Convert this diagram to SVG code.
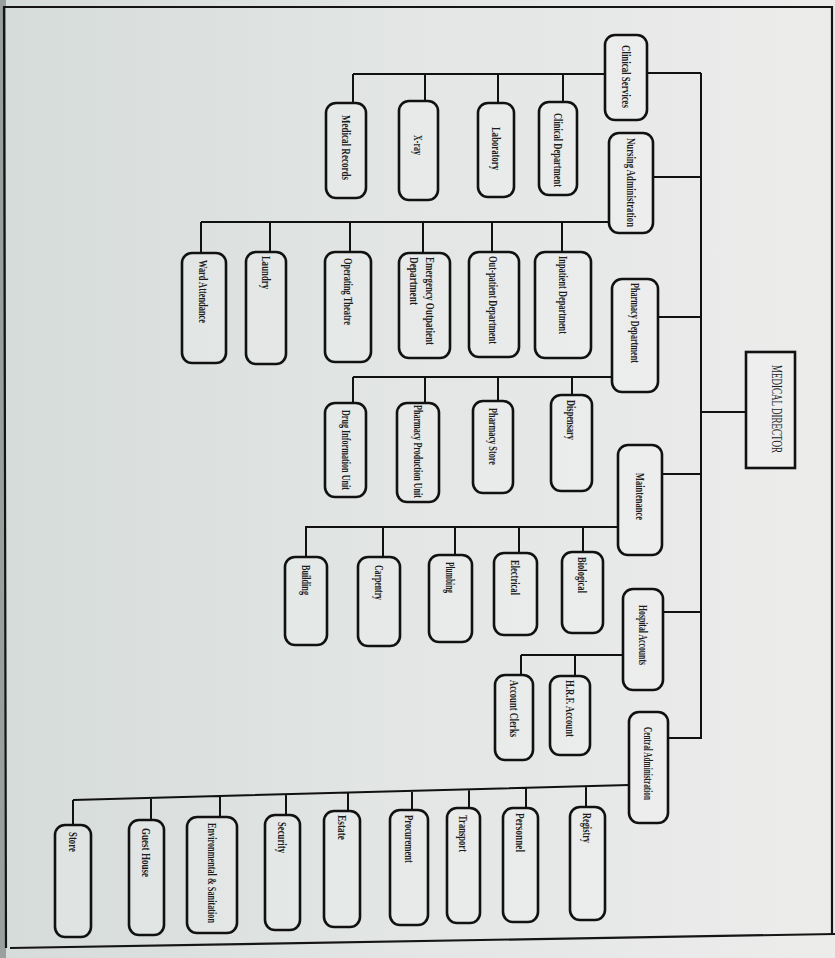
<svg xmlns="http://www.w3.org/2000/svg" width="835" height="958" viewBox="0 0 835 958">
<defs>
<linearGradient id="bg" x1="0" y1="0" x2="1" y2="0">
<stop offset="0" stop-color="#d6dcda"/>
<stop offset="0.5" stop-color="#e3e6e5"/>
<stop offset="1" stop-color="#ececeb"/>
</linearGradient>
</defs>
<style>
.box{fill:#ffffff;fill-opacity:0.18;stroke:#111;stroke-width:2.6}
.ln{stroke:#111;stroke-width:2;fill:none}
.fr{stroke:#151515;stroke-width:2.2;fill:none}
.t{font-family:"Liberation Serif","Times New Roman",serif;font-size:13px;font-weight:bold;fill:#1c1c1c;dominant-baseline:central}
.md{font-size:15px;font-weight:normal}
</style>
<rect x="0" y="0" width="835" height="958" fill="url(#bg)"/>
<rect x="0" y="0" width="6" height="958" fill="#9aa09e"/>
<polyline class="fr" points="6,948 4,7 832,7 832,935"/>
<line class="fr" x1="10" y1="948" x2="835" y2="934"/>

<g id="connectors">
<path class="ln" d="M701,73 V739"/>
<path class="ln" d="M647,73 H701 M653,177 H701 M658,317 H701 M662,474 H701 M663,612 H701 M668,738 H701 M701,412 H746"/>
<path class="ln" d="M353,74 H605 M353,74 V103 M425,74 V101 M498,74 V103 M563,74 V102"/>
<path class="ln" d="M201,222 H609 M201,222 V253 M270,222 V252 M350,222 V252 M423,222 V253 M492,222 V252 M562,222 V252"/>
<path class="ln" d="M353,377 H612 M353,377 V403 M425,377 V403 M498,377 V401 M572,377 V395"/>
<path class="ln" d="M305,527 H618 M306,527 V557 M383,527 V557 M455,527 V555 M519,527 V553 M583,527 V552"/>
<path class="ln" d="M521,655 H623 M521,655 V675 M575,655 V676"/>
<path class="ln" d="M73,800 L629,785 M73,800 V825 M151,798 V820 M220,796 V817 M286,794 V815 M348,793 V811 M412,791 V810 M469,789 V808 M526,788 V808 M586,786 V807"/>
</g>

<g id="medical-director"><rect class="box" x="746" y="352" width="49" height="116"/><text class="t md" transform="translate(777,365) rotate(90)" textLength="88" lengthAdjust="spacingAndGlyphs">MEDICAL DIRECTOR</text></g>

<g id="clinical-services"><rect class="box" x="605" y="35" width="42" height="85" rx="10"/><text class="t" transform="translate(626,45) rotate(90)" textLength="63" lengthAdjust="spacingAndGlyphs">Clinical Services</text></g>
<g id="nursing-administration"><rect class="box" x="609" y="133" width="44" height="100" rx="10"/><text class="t" transform="translate(631,138) rotate(90)" textLength="89" lengthAdjust="spacingAndGlyphs">Nursing Administration</text></g>
<g id="pharmacy-department"><rect class="box" x="612" y="279" width="46" height="113" rx="10"/><text class="t" transform="translate(635,283) rotate(90)" textLength="80" lengthAdjust="spacingAndGlyphs">Pharmacy Department</text></g>
<g id="maintenance"><rect class="box" x="618" y="445" width="44" height="110" rx="10"/><text class="t" transform="translate(640,473) rotate(90)" textLength="47" lengthAdjust="spacingAndGlyphs">Maintenance</text></g>
<g id="hospital-accounts"><rect class="box" x="623" y="589" width="40" height="101" rx="10"/><text class="t" transform="translate(643,605) rotate(90)" textLength="60" lengthAdjust="spacingAndGlyphs">Hospital Accounts</text></g>
<g id="central-administration"><rect class="box" x="629" y="712" width="39" height="111" rx="10"/><text class="t" transform="translate(648,727) rotate(90)" textLength="73" lengthAdjust="spacingAndGlyphs">Central Administration</text></g>

<g id="medical-records"><rect class="box" x="326" y="103" width="40" height="95" rx="10"/><text class="t" transform="translate(346,115) rotate(90)" textLength="65" lengthAdjust="spacingAndGlyphs">Medical Records</text></g>
<g id="x-ray"><rect class="box" x="399" y="101" width="39" height="99" rx="10"/><text class="t" transform="translate(418,135) rotate(90)" textLength="20" lengthAdjust="spacingAndGlyphs">X-ray</text></g>
<g id="laboratory"><rect class="box" x="478" y="103" width="36" height="94" rx="10"/><text class="t" transform="translate(496,127) rotate(90)" textLength="43" lengthAdjust="spacingAndGlyphs">Laboratory</text></g>
<g id="clinical-department"><rect class="box" x="539" y="102" width="38" height="93" rx="10"/><text class="t" transform="translate(558,113) rotate(90)" textLength="74" lengthAdjust="spacingAndGlyphs">Clinical Department</text></g>

<g id="ward-attendance"><rect class="box" x="182" y="253" width="44" height="110" rx="10"/><text class="t" transform="translate(203,260) rotate(90)" textLength="63" lengthAdjust="spacingAndGlyphs">Ward Attendance</text></g>
<g id="laundry"><rect class="box" x="246" y="252" width="40" height="112" rx="10"/><text class="t" transform="translate(266,256) rotate(90)" textLength="33" lengthAdjust="spacingAndGlyphs">Laundry</text></g>
<g id="operating-theatre"><rect class="box" x="325" y="252" width="46" height="110" rx="10"/><text class="t" transform="translate(348,258) rotate(90)" textLength="67" lengthAdjust="spacingAndGlyphs">Operating Theatre</text></g>
<g id="emergency-outpatient"><rect class="box" x="399" y="253" width="51" height="105" rx="10"/><text class="t" transform="translate(430,257) rotate(90)" textLength="88" lengthAdjust="spacingAndGlyphs">Emergency Outpatient</text><text class="t" transform="translate(414,257) rotate(90)" textLength="48" lengthAdjust="spacingAndGlyphs">Department</text></g>
<g id="out-patient"><rect class="box" x="469" y="252" width="50" height="105" rx="10"/><text class="t" transform="translate(493,256) rotate(90)" textLength="88" lengthAdjust="spacingAndGlyphs">Out-patient Department</text></g>
<g id="inpatient"><rect class="box" x="535" y="252" width="56" height="106" rx="10"/><text class="t" transform="translate(563,256) rotate(90)" textLength="78" lengthAdjust="spacingAndGlyphs">Inpatient Department</text></g>

<g id="drug-information"><rect class="box" x="325" y="403" width="41" height="94" rx="10"/><text class="t" transform="translate(346,410) rotate(90)" textLength="80" lengthAdjust="spacingAndGlyphs">Drug Information Unit</text></g>
<g id="pharmacy-production"><rect class="box" x="397" y="403" width="42" height="99" rx="10"/><text class="t" transform="translate(418,405) rotate(90)" textLength="93" lengthAdjust="spacingAndGlyphs">Pharmacy Production Unit</text></g>
<g id="pharmacy-store"><rect class="box" x="473" y="401" width="40" height="92" rx="10"/><text class="t" transform="translate(493,408) rotate(90)" textLength="57" lengthAdjust="spacingAndGlyphs">Pharmacy Store</text></g>
<g id="dispensary"><rect class="box" x="551" y="395" width="41" height="96" rx="10"/><text class="t" transform="translate(571,400) rotate(90)" textLength="40" lengthAdjust="spacingAndGlyphs">Dispensary</text></g>

<g id="building"><rect class="box" x="285" y="557" width="42" height="88" rx="10"/><text class="t" transform="translate(306,565) rotate(90)" textLength="30" lengthAdjust="spacingAndGlyphs">Building</text></g>
<g id="carpentry"><rect class="box" x="358" y="557" width="42" height="89" rx="10"/><text class="t" transform="translate(379,565) rotate(90)" textLength="35" lengthAdjust="spacingAndGlyphs">Carpentry</text></g>
<g id="plumbing"><rect class="box" x="429" y="555" width="43" height="87" rx="10"/><text class="t" transform="translate(450,562) rotate(90)" textLength="31" lengthAdjust="spacingAndGlyphs">Plumbing</text></g>
<g id="electrical"><rect class="box" x="494" y="553" width="43" height="82" rx="10"/><text class="t" transform="translate(515,560) rotate(90)" textLength="35" lengthAdjust="spacingAndGlyphs">Electrical</text></g>
<g id="biological"><rect class="box" x="562" y="552" width="41" height="81" rx="10"/><text class="t" transform="translate(582,557) rotate(90)" textLength="36" lengthAdjust="spacingAndGlyphs">Biological</text></g>

<g id="account-clerks"><rect class="box" x="495" y="675" width="38" height="85" rx="10"/><text class="t" transform="translate(514,680) rotate(90)" textLength="57" lengthAdjust="spacingAndGlyphs">Account Clerks</text></g>
<g id="hrf-account"><rect class="box" x="550" y="676" width="40" height="79" rx="10"/><text class="t" transform="translate(570,680) rotate(90)" textLength="57" lengthAdjust="spacingAndGlyphs">H.R.F. Account</text></g>

<g id="store"><rect class="box" x="55" y="825" width="36" height="112" rx="10"/><text class="t" transform="translate(73,832) rotate(90)" textLength="20" lengthAdjust="spacingAndGlyphs">Store</text></g>
<g id="guest-house"><rect class="box" x="129" y="820" width="35" height="115" rx="10"/><text class="t" transform="translate(146,828) rotate(90)" textLength="49" lengthAdjust="spacingAndGlyphs">Guest House</text></g>
<g id="environmental"><rect class="box" x="187" y="817" width="50" height="116" rx="10"/><text class="t" transform="translate(212,823) rotate(90)" textLength="100" lengthAdjust="spacingAndGlyphs">Environmental &amp; Sanitation</text></g>
<g id="security"><rect class="box" x="265" y="815" width="35" height="115" rx="10"/><text class="t" transform="translate(282,822) rotate(90)" textLength="31" lengthAdjust="spacingAndGlyphs">Security</text></g>
<g id="estate"><rect class="box" x="324" y="811" width="36" height="116" rx="10"/><text class="t" transform="translate(342,815) rotate(90)" textLength="25" lengthAdjust="spacingAndGlyphs">Estate</text></g>
<g id="procurement"><rect class="box" x="390" y="810" width="38" height="115" rx="10"/><text class="t" transform="translate(409,815) rotate(90)" textLength="48" lengthAdjust="spacingAndGlyphs">Procurement</text></g>
<g id="transport"><rect class="box" x="447" y="808" width="33" height="115" rx="10"/><text class="t" transform="translate(463,815) rotate(90)" textLength="37" lengthAdjust="spacingAndGlyphs">Transport</text></g>
<g id="personnel"><rect class="box" x="503" y="808" width="35" height="114" rx="10"/><text class="t" transform="translate(520,813) rotate(90)" textLength="39" lengthAdjust="spacingAndGlyphs">Personnel</text></g>
<g id="registry"><rect class="box" x="570" y="807" width="35" height="113" rx="10"/><text class="t" transform="translate(587,813) rotate(90)" textLength="30" lengthAdjust="spacingAndGlyphs">Registry</text></g>
</svg>
